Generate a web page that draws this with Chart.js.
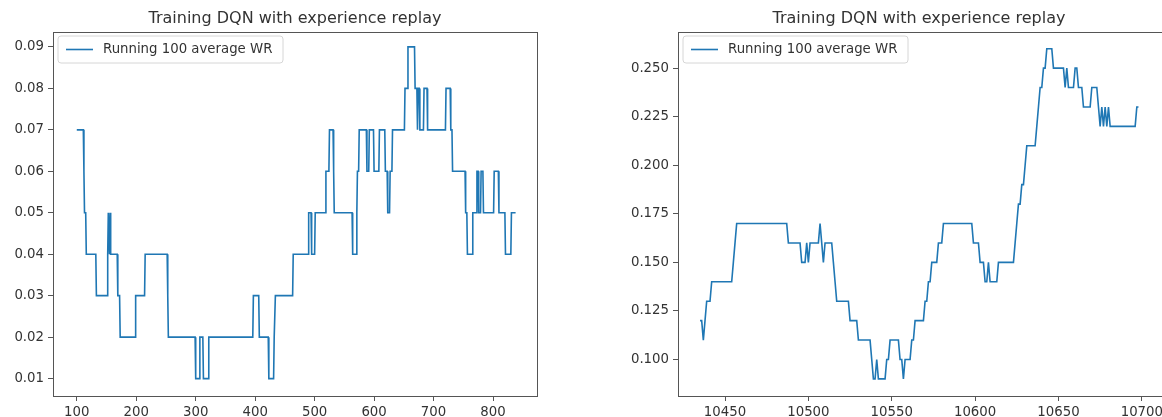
<!DOCTYPE html>
<html>
<head>
<meta charset="utf-8">
<title>Training DQN with experience replay</title>
<script src="https://cdn.jsdelivr.net/npm/chart.js@4/dist/chart.umd.min.js"></script>
<style>
  html, body { margin: 0; padding: 0; background: #ffffff; overflow: hidden; }
  body { width: 1162px; height: 417px; position: relative; }
  canvas { position: absolute; top: 0; }
  #leftChart { left: 0; }
  #rightChart { left: 581px; }
</style>
</head>
<body>
<canvas id="leftChart" width="581" height="417"></canvas>
<canvas id="rightChart" width="600" height="417"></canvas>
<script>
// Running 100-episode win rate, stored as runs: each run starts at an episode
// and keeps its value until the next run begins.
const chartTitle = 'Training DQN with experience replay';
const seriesLabel = 'Running 100 average WR';

// Early training (episodes 100-838)
const leftRunStart = [100, 112, 113, 116, 133, 152, 153, 155, 156, 157, 169, 173, 199, 215, 253, 254,
  300, 307, 313, 322, 397, 407, 423, 432, 434, 464, 490, 495, 501, 519, 525, 532, 533, 564, 571, 572,
  575, 588, 592, 600, 609, 619, 623, 627, 631, 652, 657, 669, 673, 674, 677, 684, 690, 721, 729, 732,
  754, 757, 766, 773, 776, 780, 784, 802, 810, 821, 831];
const leftRunValue = [0.07, 0.06, 0.05, 0.04, 0.03, 0.04, 0.05, 0.04, 0.05, 0.04, 0.03, 0.02, 0.03, 0.04, 0.03, 0.02,
  0.01, 0.02, 0.01, 0.02, 0.03, 0.02, 0.01, 0.02, 0.03, 0.04, 0.05, 0.04, 0.05, 0.06, 0.07, 0.06, 0.05, 0.04, 0.05, 0.06,
  0.07, 0.06, 0.07, 0.06, 0.07, 0.06, 0.05, 0.06, 0.07, 0.08, 0.09, 0.08, 0.07, 0.08, 0.07, 0.08, 0.07, 0.08, 0.07, 0.06,
  0.05, 0.04, 0.05, 0.06, 0.05, 0.06, 0.05, 0.06, 0.05, 0.04, 0.05];
const leftLastEpisode = 838;

// Later training (episodes 10435-10698)
const rightRunStart = [10435, 10437, 10438, 10439, 10442, 10455, 10456, 10457, 10488, 10496, 10499, 10500,
  10501, 10507, 10508, 10509, 10510, 10515, 10516, 10517, 10525, 10530, 10538, 10539, 10541, 10542, 10547,
  10549, 10555, 10557, 10558, 10562, 10564, 10570, 10572, 10574, 10578, 10581, 10599, 10603, 10606, 10608,
  10609, 10614, 10624, 10625, 10626, 10628, 10630, 10631, 10637, 10638, 10639, 10641, 10643, 10647, 10654,
  10655, 10656, 10660, 10662, 10665, 10670, 10674, 10675, 10676, 10677, 10678, 10679, 10680, 10681, 10697];
const rightRunValue = [0.12, 0.11, 0.12, 0.13, 0.14, 0.15, 0.16, 0.17, 0.16, 0.15, 0.16, 0.15,
  0.16, 0.17, 0.16, 0.15, 0.16, 0.15, 0.14, 0.13, 0.12, 0.11, 0.10, 0.09, 0.10, 0.09, 0.10,
  0.11, 0.10, 0.09, 0.10, 0.11, 0.12, 0.13, 0.14, 0.15, 0.16, 0.17, 0.16, 0.15, 0.14, 0.15,
  0.14, 0.15, 0.16, 0.17, 0.18, 0.19, 0.20, 0.21, 0.22, 0.23, 0.24, 0.25, 0.26, 0.25, 0.24,
  0.25, 0.24, 0.25, 0.24, 0.23, 0.24, 0.23, 0.22, 0.23, 0.22, 0.23, 0.22, 0.23, 0.22, 0.23];
const rightLastEpisode = 10698;

// Tick positions
const leftXTicks = [100, 200, 300, 400, 500, 600, 700, 800];
const leftYTicks = [0.01, 0.02, 0.03, 0.04, 0.05, 0.06, 0.07, 0.08, 0.09];
const rightXTicks = [10450, 10500, 10550, 10600, 10650, 10700];
const rightYTicks = [0.100, 0.125, 0.150, 0.175, 0.200, 0.225, 0.250];

const FONT = '"DejaVu Sans", "Liberation Sans", sans-serif';
const TEXT = '#333333';
const SPINE = '#555555';
const LINE = '#1f77b4';

// Turn runs into line vertices: one at the start and one at the end of each run.
function runsToPoints(starts, values, last) {
  const pts = [];
  for (let i = 0; i < starts.length; i++) {
    const s = starts[i];
    const e = i + 1 < starts.length ? starts[i + 1] - 1 : last;
    pts.push({ x: s, y: values[i] });
    if (e > s) pts.push({ x: e, y: values[i] });
  }
  return pts;
}

// Frame, title and legend drawn around the plot area.
const framePlugin = {
  id: 'frame',
  afterDatasetsDraw(chart) {
    const { ctx, chartArea: a } = chart;
    ctx.save();
    ctx.strokeStyle = SPINE;
    ctx.lineWidth = 1;
    ctx.strokeRect(Math.round(a.left) + 0.5, Math.round(a.top) + 0.5,
                   Math.round(a.right - a.left), Math.round(a.bottom - a.top));

    // legend
    const bx = a.left + 5, by = a.top + 4, bw = 225, bh = 27, r = 3;
    ctx.beginPath();
    ctx.moveTo(bx + r, by);
    ctx.arcTo(bx + bw, by, bx + bw, by + bh, r);
    ctx.arcTo(bx + bw, by + bh, bx, by + bh, r);
    ctx.arcTo(bx, by + bh, bx, by, r);
    ctx.arcTo(bx, by, bx + bw, by, r);
    ctx.closePath();
    ctx.fillStyle = 'rgba(255,255,255,0.8)';
    ctx.fill();
    ctx.strokeStyle = '#d6d6d6';
    ctx.stroke();

    const ly = by + 13.5;
    ctx.beginPath();
    ctx.moveTo(a.left + 13, ly);
    ctx.lineTo(a.left + 40, ly);
    ctx.strokeStyle = LINE;
    ctx.lineWidth = 1.6;
    ctx.stroke();

    ctx.fillStyle = TEXT;
    ctx.font = '13.3px ' + FONT;
    ctx.textAlign = 'left';
    ctx.textBaseline = 'middle';
    ctx.fillText(chart.data.datasets[0].label, a.left + 50, ly + 0.5);

    // title
    ctx.font = '16px ' + FONT;
    ctx.textAlign = 'center';
    ctx.textBaseline = 'alphabetic';
    const cx = chart.options.titleCenter != null ? chart.options.titleCenter : (a.left + a.right) / 2;
    ctx.fillText(chartTitle, cx, a.top - 9);
    ctx.restore();
  }
};

function makeChart(id, cfg) {
  const tickFont = { family: FONT, size: 13.3 };
  return new Chart(document.getElementById(id), {
    type: 'line',
    data: {
      datasets: [{
        label: seriesLabel,
        data: runsToPoints(cfg.starts, cfg.values, cfg.last),
        borderColor: LINE,
        borderWidth: 1.6,
        pointRadius: 0,
        tension: 0,
        fill: false
      }]
    },
    options: {
      responsive: false,
      animation: false,
      devicePixelRatio: 1,
      titleCenter: cfg.titleCenter,
      layout: { padding: { top: 32, left: 0, right: cfg.padRight, bottom: 0 } },
      plugins: { legend: { display: false }, title: { display: false }, tooltip: { enabled: false } },
      scales: {
        x: {
          type: 'linear',
          min: cfg.xMin, max: cfg.xMax,
          afterBuildTicks: s => { s.ticks = cfg.xTicks.map(v => ({ value: v })); },
          afterFit: s => { s.height = 21; },
          border: { display: false },
          grid: { drawOnChartArea: false, drawTicks: true, tickLength: 5, color: SPINE, lineWidth: 1 },
          ticks: { color: TEXT, font: tickFont, padding: 4, maxRotation: 0, autoSkip: false,
                   callback: v => String(v) }
        },
        y: {
          type: 'linear',
          min: cfg.yMin, max: cfg.yMax,
          afterBuildTicks: s => { s.ticks = cfg.yTicks.map(v => ({ value: v })); },
          afterFit: s => { s.width = cfg.yWidth; },
          border: { display: false },
          grid: { drawOnChartArea: false, drawTicks: true, tickLength: 5, color: SPINE, lineWidth: 1 },
          ticks: { color: TEXT, font: tickFont, padding: 4, autoSkip: false,
                   callback: v => v.toFixed(cfg.yDigits) }
        }
      }
    },
    plugins: [framePlugin]
  });
}

makeChart('leftChart', {
  starts: leftRunStart, values: leftRunValue, last: leftLastEpisode,
  xTicks: leftXTicks, yTicks: leftYTicks, yDigits: 2,
  xMin: 60, xMax: 874, yMin: 0.0058, yMax: 0.0936,
  yWidth: 53, padRight: 44
});

// The right plot's frame runs past the window edge, so only its ticks near 10700 show.
makeChart('rightChart', {
  starts: rightRunStart, values: rightRunValue, last: rightLastEpisode,
  xTicks: rightXTicks, yTicks: rightYTicks, yDigits: 3,
  xMin: 10421.8, xMax: 10718.1, yMin: 0.0812, yMax: 0.2686,
  yWidth: 97, padRight: 9, titleCenter: 338
});
</script>
</body>
</html>
